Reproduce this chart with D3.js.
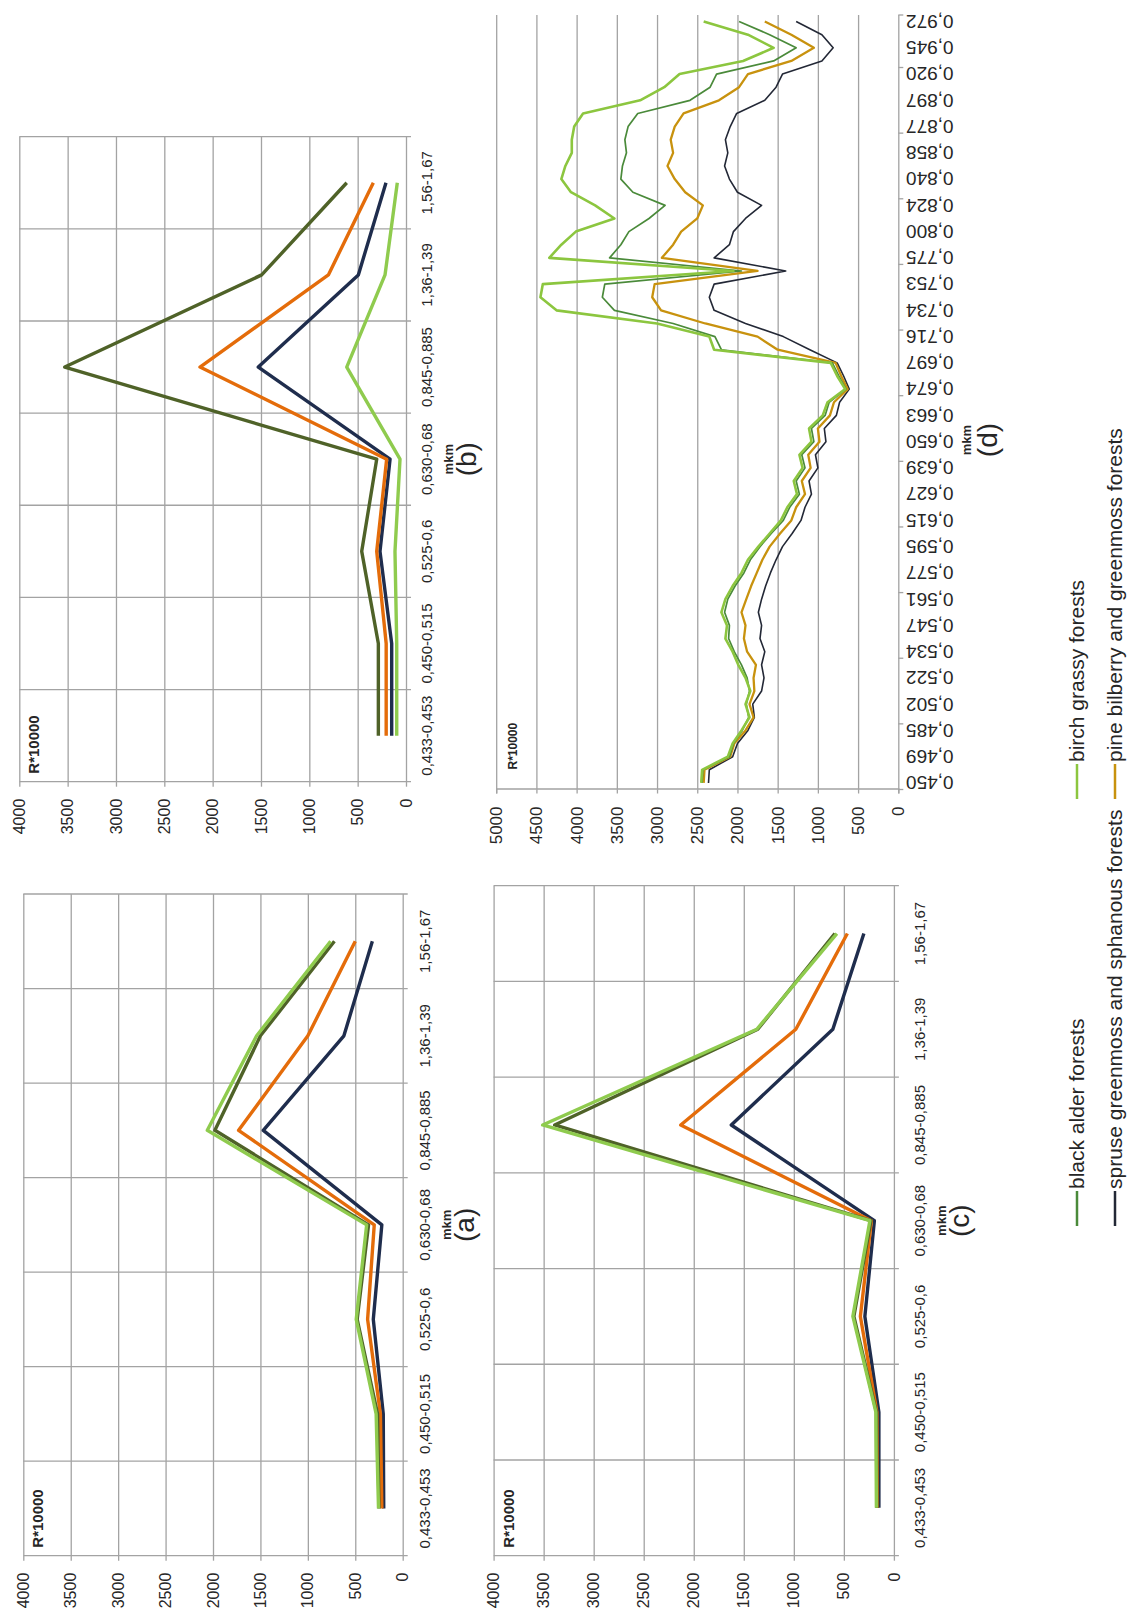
<!DOCTYPE html>
<html>
<head>
<meta charset="utf-8">
<script src="https://cdn.jsdelivr.net/npm/d3@7"></script>
<style>
  body { margin: 0; background: #fff; }
  svg { display: block; }
  text { font-family: "Liberation Sans", Arial, sans-serif; fill: #262626; }
</style>
</head>
<body>
<script>
// ---- broad-band categories (charts a, b, c) ----
const broadBands = ["0,433-0,453", "0,450-0,515", "0,525-0,6", "0,630-0,68", "0,845-0,885", "1,36-1,39", "1,56-1,67"];

// (a) reflectance R*10000 per broad band
const aAlder  = [250, 265, 480, 360, 1980, 1500, 720];
const aBirch  = [255, 280, 490, 380, 2060, 1540, 760];
const aPine   = [220, 235, 370, 300, 1730, 1000, 500];
const aSpruce = [200, 205, 310, 220, 1470, 620, 320];

// (b)
const bAlder  = [286, 286, 458, 303, 3530, 1493, 613];
const bBirch  = [96, 96, 114, 62, 613, 217, 90];
const bPine   = [205, 205, 303, 200, 2131, 803, 338];
const bSpruce = [148, 148, 269, 165, 1528, 493, 207];

// (c)
const cAlder  = [170, 175, 400, 230, 3390, 1360, 590];
const cBirch  = [175, 180, 410, 240, 3510, 1370, 570];
const cPine   = [165, 170, 335, 225, 2130, 980, 465];
const cSpruce = [150, 150, 290, 195, 1625, 610, 300];

// (d) narrow spectral channels, labelled every second channel (mkm)
const channelLabels = ["0,450", "0,469", "0,485", "0,502", "0,522", "0,534", "0,547", "0,561", "0,577", "0,595",
  "0,615", "0,627", "0,639", "0,650", "0,663", "0,674", "0,697", "0,716", "0,734", "0,753",
  "0,775", "0,800", "0,824", "0,840", "0,858", "0,877", "0,897", "0,920", "0,945", "0,972"];

const dBirch = [2450, 2440, 2120, 2060, 1950, 1850, 1900, 1840, 1900, 1990,
  2060, 2150, 2130, 2200, 2150, 2060, 1950, 1870, 1740, 1600,
  1460, 1380, 1260, 1300, 1190, 1230, 1080, 1110, 940, 880,
  660, 760, 840, 2290, 2350, 3000, 4250, 4450, 4420, 2050,
  4340, 4190, 4010, 3530, 3770, 4070, 4190, 4140, 4060, 4060,
  4030, 3920, 3210, 2910, 2720, 1930, 1550, 1870, 2420];
const dAlder = [2440, 2430, 2100, 2050, 1940, 1860, 1890, 1850, 1880, 1950,
  2040, 2110, 2100, 2160, 2120, 2030, 1920, 1840, 1720, 1580,
  1430, 1350, 1230, 1270, 1160, 1200, 1050, 1080, 910, 860,
  650, 740, 820, 2200, 2280, 2800, 3530, 3680, 3650, 1950,
  3590, 3450, 3350, 3100, 2900, 3300, 3450, 3430, 3380, 3400,
  3360, 3240, 2590, 2340, 2260, 1550, 1270, 1600, 1980];
const dPine = [2420, 2410, 2090, 2040, 1900, 1800, 1850, 1790, 1800, 1770,
  1880, 1920, 1900, 1950, 1890, 1830, 1760, 1690, 1600, 1470,
  1330, 1270, 1160, 1200, 1090, 1120, 980, 1000, 850, 800,
  630, 710, 780, 1500, 1750, 2400, 2950, 3060, 3030, 1750,
  2940, 2800, 2700, 2500, 2430, 2650, 2780, 2870, 2800, 2830,
  2780, 2670, 2230, 1980, 1870, 1330, 1050, 1330, 1660];
const dSpruce = [2360, 2350, 2060, 2000, 1870, 1790, 1810, 1700, 1670, 1700,
  1660, 1720, 1700, 1740, 1700, 1650, 1590, 1520, 1440, 1320,
  1210, 1160, 1080, 1110, 1000, 1030, 900, 920, 770, 730,
  610, 680, 760, 1100, 1430, 1900, 2290, 2350, 2290, 1400,
  2290, 2100, 2050, 1900, 1700, 2000, 2100, 2160, 2120, 2150,
  2090, 2010, 1660, 1520, 1440, 950, 810, 950, 1270];

const seriesNames = ["black alder forests", "spruse greenmoss and sphanous forests",
  "birch grassy forests", "pine bilberry and greenmoss forests"];

// palettes
const broadColors = { alder: "#4f6228", spruce: "#1f2d4d", pine: "#e46c0a", birch: "#8fcb4e" };
const fineColors  = { alder: "#4a8a3a", spruce: "#232836", pine: "#c8920e", birch: "#8cc63f" };

// The page is laid out in landscape and turned a quarter turn counter-clockwise.
const PW = 1615, PH = 1129;
const svg = d3.select("body").append("svg").attr("width", PH).attr("height", PW);
const page = svg.append("g").attr("transform", `translate(0,${PW}) rotate(-90)`);

const gridColor = "#a3a3a3";

function valueAxis(g, y, x0, x1, max, labelGap, fontSize) {
  const ticks = d3.range(0, max + 1, 500);
  // gridlines
  g.append("g").attr("transform", `translate(${x0},0)`)
    .call(d3.axisLeft(y).tickValues(ticks).tickSize(-(x1 - x0)).tickFormat(""))
    .call(s => s.select(".domain").remove())
    .call(s => s.selectAll("line").attr("stroke", gridColor).attr("stroke-width", 1.3));
  // outward ticks and labels
  g.append("g").attr("transform", `translate(${x0},0)`)
    .call(d3.axisLeft(y).tickValues(ticks).tickSize(5).tickPadding(labelGap).tickFormat(d3.format("d")))
    .call(s => s.select(".domain").remove())
    .call(s => s.selectAll("line").attr("stroke", gridColor).attr("stroke-width", 1.3))
    .call(s => s.selectAll("text").attr("font-size", fontSize).attr("font-family", "Liberation Sans, Arial, sans-serif").attr("fill", "#262626"));
}

function broadChart(cfg) {
  const g = page.append("g");
  const x = d3.scaleBand().domain(broadBands).range([cfg.x0, cfg.x1]).padding(0);
  const y = d3.scaleLinear().domain([0, 4000]).range([cfg.yZero, cfg.yTop]);
  valueAxis(g, y, cfg.x0, cfg.x1, 4000, 12, 16);
  // category boundaries with outward ticks
  const bounds = broadBands.map(c => x(c)).concat([cfg.x1]);
  g.append("g").selectAll("line").data(bounds).join("line")
    .attr("x1", d => d).attr("x2", d => d)
    .attr("y1", y(4000)).attr("y2", y(0) + 5)
    .attr("stroke", gridColor).attr("stroke-width", 1.3);
  // category labels
  g.append("g").selectAll("text").data(broadBands).join("text")
    .attr("x", d => x(d) + x.bandwidth() / 2).attr("y", cfg.labelY)
    .attr("text-anchor", "middle").attr("font-size", 15).text(d => d);
  // unit label
  g.append("text").attr("x", cfg.x0 + 8).attr("y", y(4000) + 20)
    .attr("font-size", 15).attr("font-weight", "bold").text("R*10000");
  // axis title and panel letter
  const cx = (cfg.x0 + cfg.x1) / 2;
  g.append("text").attr("x", cx).attr("y", cfg.labelY + 21).attr("text-anchor", "middle")
    .attr("font-size", 13).attr("font-weight", "bold").text("mkm");
  g.append("text").attr("x", cx).attr("y", cfg.labelY + 44).attr("text-anchor", "middle")
    .attr("font-size", 28).text(cfg.letter);
  // series
  const line = d3.line().x((d, i) => x(broadBands[i]) + x.bandwidth() / 2).y(d => y(d));
  cfg.series.forEach(s => {
    g.append("path").datum(s.values).attr("d", line)
      .attr("fill", "none").attr("stroke", s.color).attr("stroke-width", 3.4)
      .attr("stroke-linejoin", "round");
  });
}

broadChart({ x0: 59.3, x1: 721, yTop: 23.3, yZero: 402.7, labelY: 430, letter: "(a)",
  series: [
    { values: aSpruce, color: broadColors.spruce },
    { values: aPine, color: broadColors.pine },
    { values: aAlder, color: broadColors.alder },
    { values: aBirch, color: broadColors.birch }
  ] });

broadChart({ x0: 833.3, x1: 1478.3, yTop: 19.3, yZero: 406, labelY: 432, letter: "(b)",
  series: [
    { values: bBirch, color: broadColors.birch },
    { values: bSpruce, color: broadColors.spruce },
    { values: bPine, color: broadColors.pine },
    { values: bAlder, color: broadColors.alder }
  ] });

broadChart({ x0: 59.3, x1: 729.3, yTop: 493.6, yZero: 893.9, labelY: 925, letter: "(c)",
  series: [
    { values: cSpruce, color: broadColors.spruce },
    { values: cPine, color: broadColors.pine },
    { values: cAlder, color: broadColors.alder },
    { values: cBirch, color: broadColors.birch }
  ] });

// ---- (d) narrow channels ----
(function () {
  const x0 = 825.5, x1 = 1600, yTop = 496.2, yZero = 898.3;
  const g = page.append("g");
  const idx = d3.range(dBirch.length);
  const x = d3.scaleBand().domain(idx).range([x0, x1]).padding(0);
  const y = d3.scaleLinear().domain([0, 5000]).range([yZero, yTop]);
  const ticks = d3.range(0, 5001, 500);
  g.append("g").attr("transform", `translate(${x0},0)`)
    .call(d3.axisLeft(y).tickValues(ticks).tickSize(-(x1 - x0)).tickFormat(""))
    .call(s => s.select(".domain").remove())
    .call(s => s.selectAll("line").attr("stroke", gridColor).attr("stroke-width", 1.3));
  g.append("g").attr("transform", `translate(${x0},0)`)
    .call(d3.axisLeft(y).tickValues(ticks).tickSize(4).tickPadding(13).tickFormat(d3.format("d")))
    .call(s => s.select(".domain").attr("stroke", gridColor).attr("stroke-width", 1.3))
    .call(s => s.selectAll("line").attr("stroke", gridColor).attr("stroke-width", 1.3))
    .call(s => s.selectAll("text").attr("font-size", 17).attr("font-family", "Liberation Sans, Arial, sans-serif").attr("fill", "#262626"));
  // category axis ticks every five channels
  const tickIdx = idx.filter(i => i % 5 === 0).map(i => x(i)).concat([x1]);
  g.append("g").selectAll("line").data(tickIdx).join("line")
    .attr("x1", d => d).attr("x2", d => d).attr("y1", yZero).attr("y2", yZero + 5)
    .attr("stroke", gridColor).attr("stroke-width", 1.3);
  // labels every second channel, turned upright
  g.append("g").selectAll("text").data(channelLabels).join("text")
    .attr("transform", (d, k) => `translate(${x(2 * k) + x.bandwidth() / 2},906) rotate(-90)`)
    .attr("text-anchor", "end").attr("dy", "0.35em").attr("font-size", 19).text(d => d);
  g.append("text").attr("x", x0 + 20).attr("y", yTop + 21)
    .attr("font-size", 12).attr("font-weight", "bold").text("R*10000");
  const cx = 1175;
  g.append("text").attr("x", cx).attr("y", 971).attr("text-anchor", "middle")
    .attr("font-size", 13).attr("font-weight", "bold").text("mkm");
  g.append("text").attr("x", cx).attr("y", 997).attr("text-anchor", "middle")
    .attr("font-size", 28).text("(d)");
  const line = d3.line().x((d, i) => x(i) + x.bandwidth() / 2).y(d => y(d));
  [
    { values: dSpruce, color: fineColors.spruce, w: 1.6 },
    { values: dPine, color: fineColors.pine, w: 2.3 },
    { values: dAlder, color: fineColors.alder, w: 1.7 },
    { values: dBirch, color: fineColors.birch, w: 2.6 }
  ].forEach(s => {
    g.append("path").datum(s.values).attr("d", line)
      .attr("fill", "none").attr("stroke", s.color).attr("stroke-width", s.w)
      .attr("stroke-linejoin", "round");
  });
})();

// ---- legend ----
const legendItems = [
  { name: seriesNames[0], color: fineColors.alder, x: 389, y: 1077 },
  { name: seriesNames[2], color: fineColors.birch, x: 816, y: 1077 },
  { name: seriesNames[1], color: fineColors.spruce, x: 389, y: 1115 },
  { name: seriesNames[3], color: fineColors.pine, x: 816, y: 1115 }
];
const lg = page.append("g").selectAll("g").data(legendItems).join("g")
  .attr("transform", d => `translate(${d.x},${d.y})`);
lg.append("line").attr("x1", 0).attr("x2", 35).attr("y1", 0).attr("y2", 0)
  .attr("stroke", d => d.color).attr("stroke-width", 2.5);
lg.append("text").attr("x", 37).attr("dy", "0.35em").attr("font-size", 21)
  .attr("fill", "#404040").text(d => d.name);
</script>
</body>
</html>
